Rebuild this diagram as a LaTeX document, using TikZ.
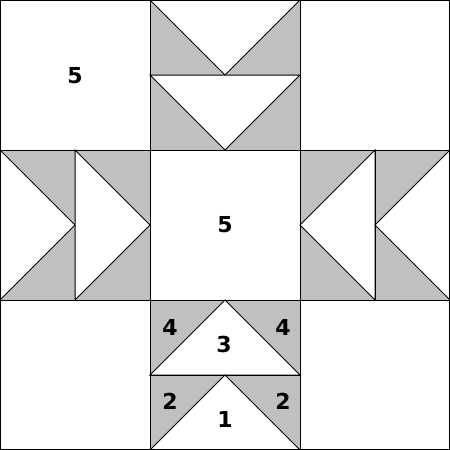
\documentclass[tikz,border=0pt]{standalone}
\usepackage{fontspec}
\setsansfont{DejaVu Sans}
\definecolor{patchgray}{HTML}{C0C0C0}
\tikzset{
	plain/.style={draw=black,fill=white,line width=1pt,line join=miter},
	shaded/.style={draw=black,fill=patchgray,line width=1pt},
	num/.style={inner sep=0pt,font=\sffamily\bfseries\fontsize{22}{22}\selectfont}}
\begin{document}
\begin{tikzpicture}[x=1pt,y=-1pt]
	\useasboundingbox (0,0) rectangle (450,450);
	% corner and centre squares
	\foreach \x/\y in {0/0,300/0,0/300,300/300,150/150}
		\draw [plain] (\x,\y) rectangle ++(150,150);
	% top and bottom geese
	\foreach \y in {0,75} {
		\draw [shaded] (150,\y) rectangle ++(150,75);
		\draw [plain] (150,\y) -- (300,\y) -- (225,\y+75) -- cycle;
	}
	\foreach \y in {300,375} {
		\draw [shaded] (150,\y) rectangle ++(150,75);
		\draw [plain] (150,\y+75) -- (300,\y+75) -- (225,\y) -- cycle;
	}
	% left and right geese
	\foreach \x in {0,75} {
		\draw [shaded] (\x,150) rectangle ++(75,150);
		\draw [plain] (\x,150) -- (\x,300) -- (\x+75,225) -- cycle;
	}
	\foreach \x in {300,375} {
		\draw [shaded] (\x,150) rectangle ++(75,150);
		\draw [plain] (\x+75,150) -- (\x+75,300) -- (\x,225) -- cycle;
	}
	\draw [black,line width=1.5pt] (0,0) rectangle (450,450);
	% labels
	\node (c5) at (75,76) [num] {5};
	\node (m5) at (225,225) [num] {5};
	\node (g4l) at (170,327) [num] {4};
	\node (g3) at (224,344) [num] {3};
	\node (g4r) at (283,327) [num] {4};
	\node (g2l) at (170,401) [num] {2};
	\node (g1) at (225,419) [num] {1};
	\node (g2r) at (283,401) [num] {2};
\end{tikzpicture}
\end{document}
